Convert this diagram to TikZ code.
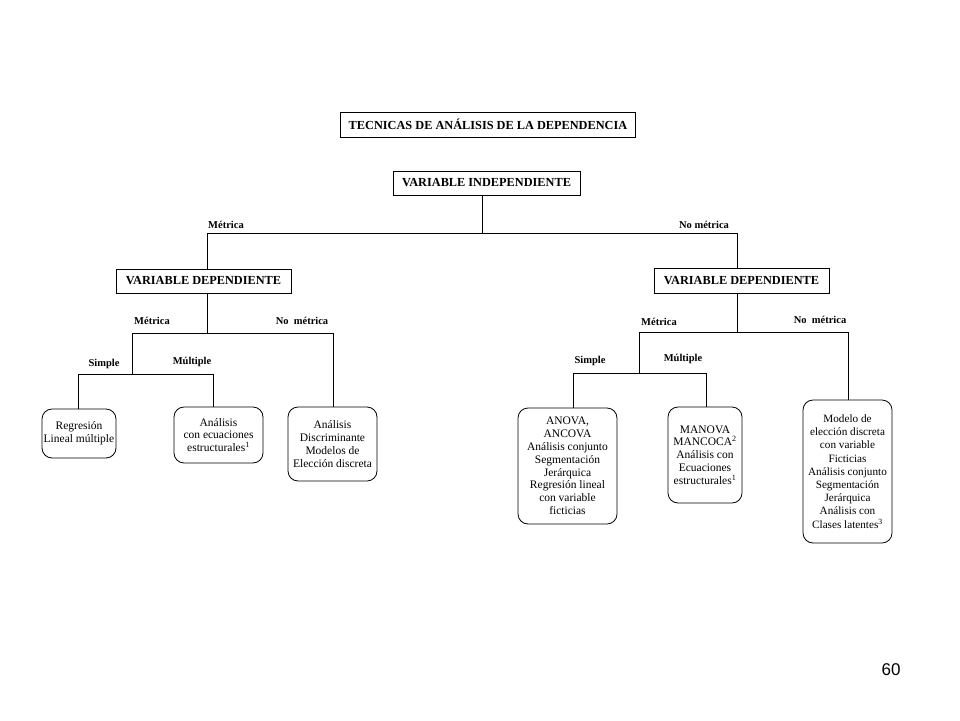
\documentclass[tikz,border=0pt]{standalone}
\usepackage{fontspec}
\setmainfont{Liberation Serif}
\newfontfamily\pagefont{Liberation Sans}
\begin{document}
\begin{tikzpicture}[x=1pt,y=-1pt,
  hbox/.style={draw, line width=0.8pt, inner sep=0pt, font=\fontsize{12.3}{14}\selectfont\bfseries},
  rbox/.style={draw, line width=0.8pt, rounded corners=10pt, inner sep=0pt, align=center, font=\fontsize{11.5}{12.8}\selectfont},
  lab/.style={font=\fontsize{10.5}{12}\selectfont\bfseries, inner sep=0pt},
  conn/.style={line width=0.8pt}]
\useasboundingbox (0,0) rectangle (960,720);
% header boxes
\node[hbox, minimum width=295, minimum height=25] (title) at (488,124.5) {TECNICAS DE ANÁLISIS DE LA DEPENDENCIA};
\node[hbox, minimum width=187, minimum height=24] (vi) at (486.5,183) {VARIABLE INDEPENDIENTE};
\node[hbox, minimum width=175, minimum height=24] (vdL) at (203.5,281) {VARIABLE DEPENDIENTE};
\node[hbox, minimum width=175, minimum height=25] (vdR) at (741.5,280.5) {VARIABLE DEPENDIENTE};
% leaf boxes
\node[rbox, minimum width=74, minimum height=49] (reg) at (79,433.5) {Regresión\\Lineal múltiple};
\node[rbox, minimum width=89, minimum height=56] (aec) at (218.5,435) {Análisis\\con ecuaciones\\estructurales\textsuperscript{1}};
\node[rbox, minimum width=89, minimum height=74] (adi) at (332.5,444) {Análisis\\Discriminante\\Modelos de\\Elección discreta};
\node[rbox, minimum width=99, minimum height=116] (anova) at (567.5,466) {ANOVA,\\ANCOVA\\Análisis conjunto\\Segmentación\\Jerárquica\\Regresión lineal\\con variable\\ficticias};
\node[rbox, minimum width=74, minimum height=96] (manova) at (705,455) {MANOVA\\MANCOCA\textsuperscript{2}\\Análisis con\\Ecuaciones\\estructurales\textsuperscript{1}};
\node[rbox, minimum width=89, minimum height=143, font=\fontsize{11.2}{13.2}\selectfont] (modelo) at (847.5,471.5) {Modelo de\\elección discreta\\con variable\\Ficticias\\Análisis conjunto\\Segmentación\\Jerárquica\\Análisis con\\Clases latentes\textsuperscript{3}};
% junction coordinates
\coordinate (j0) at (482,233);
\coordinate (aL) at (207,233);
\coordinate (aR) at (737,233);
\coordinate (bL) at (207,333);
\coordinate (bLl) at (132,333);
\coordinate (bLr) at (333,333);
\coordinate (cLl) at (78,374);
\coordinate (cLr) at (213,374);
\coordinate (bR) at (737,332);
\coordinate (bRl) at (639,332);
\coordinate (bRr) at (848,332);
\coordinate (cRl) at (573,373);
\coordinate (cRr) at (706,373);
% connectors
\draw[conn] (vi.south -| j0) -- (j0);
\draw[conn] (vdL.north -| aL) -- (aL) -- (aR) -- (vdR.north -| aR);
\draw[conn] (vdL.south -| bL) -- (bL);
\draw[conn] (reg.north -| cLl) -- (cLl) -- (cLr) -- (aec.north -| cLr);
\draw[conn] (bLl |- cLl) -- (bLl) -- (bLr) -- (adi.north -| bLr);
\draw[conn] (vdR.south -| bR) -- (bR);
\draw[conn] (anova.north -| cRl) -- (cRl) -- (cRr) -- (manova.north -| cRr);
\draw[conn] (bRl |- cRl) -- (bRl) -- (bRr) -- (modelo.north -| bRr);
% labels
\node[lab] (l1) at (226,225) {Métrica};
\node[lab] (l2) at (704,225) {No métrica};
\node[lab] (l3) at (152,321) {Métrica};
\node[lab] (l4) at (302,321) {No\ \ métrica};
\node[lab] (l5) at (104,364) {Simple};
\node[lab] (l6) at (192,362) {Múltiple};
\node[lab] (l7) at (659,322) {Métrica};
\node[lab] (l8) at (820,320) {No\ \ métrica};
\node[lab] (l9) at (590,361) {Simple};
\node[lab] (l10) at (683,359) {Múltiple};
% page number
\node[font=\pagefont\fontsize{17}{20}\selectfont, inner sep=0pt] (pg) at (891,670) {60};
\end{tikzpicture}
\end{document}
